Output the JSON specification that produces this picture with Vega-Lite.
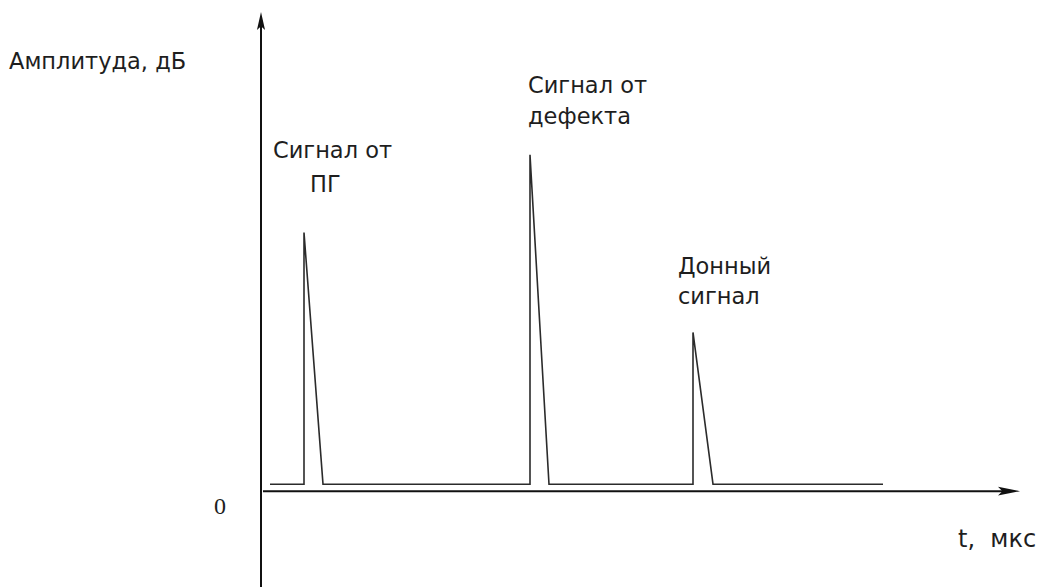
{
  "$schema": "https://vega.github.io/schema/vega-lite/v6.json",
  "autosize": {"type": "fit", "contains": "padding"},
  "width": 1046,
  "height": 588,
  "padding": 0,
  "background": "white",
  "config": {"view": {"stroke": null}},
  "datasets": {
    "signal": [
      {"i": 1, "t": 9, "a": 7},
      {"i": 2, "t": 43, "a": 7},
      {"i": 3, "t": 43, "a": 259},
      {"i": 4, "t": 62, "a": 7},
      {"i": 5, "t": 269, "a": 7},
      {"i": 6, "t": 269, "a": 337},
      {"i": 7, "t": 288, "a": 7},
      {"i": 8, "t": 432, "a": 7},
      {"i": 9, "t": 432, "a": 159},
      {"i": 10, "t": 452, "a": 7},
      {"i": 11, "t": 622, "a": 7}
    ],
    "axes": [
      {"t": 0, "a": -96, "t2": 0, "a2": 468},
      {"t": 2, "a": 0, "t2": 745, "a2": 0}
    ],
    "labels": [
      {"label": "Амплитуда, дБ", "t": -252, "a": 423},
      {"label": "Сигнал от", "t": 12, "a": 334},
      {"label": "ПГ", "t": 49, "a": 300},
      {"label": "Сигнал от", "t": 267, "a": 399},
      {"label": "дефекта", "t": 267, "a": 368},
      {"label": "Донный", "t": 417, "a": 218},
      {"label": "сигнал", "t": 417, "a": 187}
    ],
    "axisTitle": [{"label": "t,\u00a0\u00a0мкс", "t": 697, "a": -56}],
    "zero": [{"label": "0", "t": -47, "a": -23}],
    "arrowUp": [{"t": 0, "a": 471}],
    "arrowRight": [{"t": 748, "a": 0}]
  },
  "layer": [
    {
      "data": {"name": "axes"},
      "mark": {"type": "rule", "color": "#111111", "strokeWidth": 2},
      "encoding": {
        "x": {"field": "t", "type": "quantitative", "scale": {"domain": [-261, 785], "nice": false, "zero": false}, "axis": null},
        "y": {"field": "a", "type": "quantitative", "scale": {"domain": [-96, 492], "nice": false, "zero": false}, "axis": null},
        "x2": {"field": "t2"},
        "y2": {"field": "a2"}
      }
    },
    {
      "data": {"name": "signal"},
      "mark": {"type": "line", "color": "#2b2b2b", "strokeWidth": 1.6},
      "encoding": {
        "x": {"field": "t", "type": "quantitative"},
        "y": {"field": "a", "type": "quantitative"},
        "order": {"field": "i", "type": "quantitative"}
      }
    },
    {
      "data": {"name": "arrowUp"},
      "mark": {"type": "point", "shape": "M0,-1L0.45,1L0,0.6L-0.45,1Z", "size": 324, "filled": true, "color": "#111111", "opacity": 1},
      "encoding": {
        "x": {"field": "t", "type": "quantitative"},
        "y": {"field": "a", "type": "quantitative"}
      }
    },
    {
      "data": {"name": "arrowRight"},
      "mark": {"type": "point", "shape": "M1,0L-1,-0.4L-0.6,0L-1,0.4Z", "size": 484, "filled": true, "color": "#111111", "opacity": 1},
      "encoding": {
        "x": {"field": "t", "type": "quantitative"},
        "y": {"field": "a", "type": "quantitative"}
      }
    },
    {
      "data": {"name": "labels"},
      "mark": {"type": "text", "align": "left", "baseline": "alphabetic", "font": "DejaVu Sans", "fontSize": 22.5, "color": "#1e1e1e"},
      "encoding": {
        "x": {"field": "t", "type": "quantitative"},
        "y": {"field": "a", "type": "quantitative"},
        "text": {"field": "label"}
      }
    },
    {
      "data": {"name": "axisTitle"},
      "mark": {"type": "text", "align": "left", "baseline": "alphabetic", "font": "DejaVu Sans", "fontSize": 24, "color": "#1e1e1e"},
      "encoding": {
        "x": {"field": "t", "type": "quantitative"},
        "y": {"field": "a", "type": "quantitative"},
        "text": {"field": "label"}
      }
    },
    {
      "data": {"name": "zero"},
      "mark": {"type": "text", "align": "left", "baseline": "alphabetic", "font": "Liberation Serif", "fontSize": 24, "color": "#1e1e1e"},
      "encoding": {
        "x": {"field": "t", "type": "quantitative"},
        "y": {"field": "a", "type": "quantitative"},
        "text": {"field": "label"}
      }
    }
  ]
}
